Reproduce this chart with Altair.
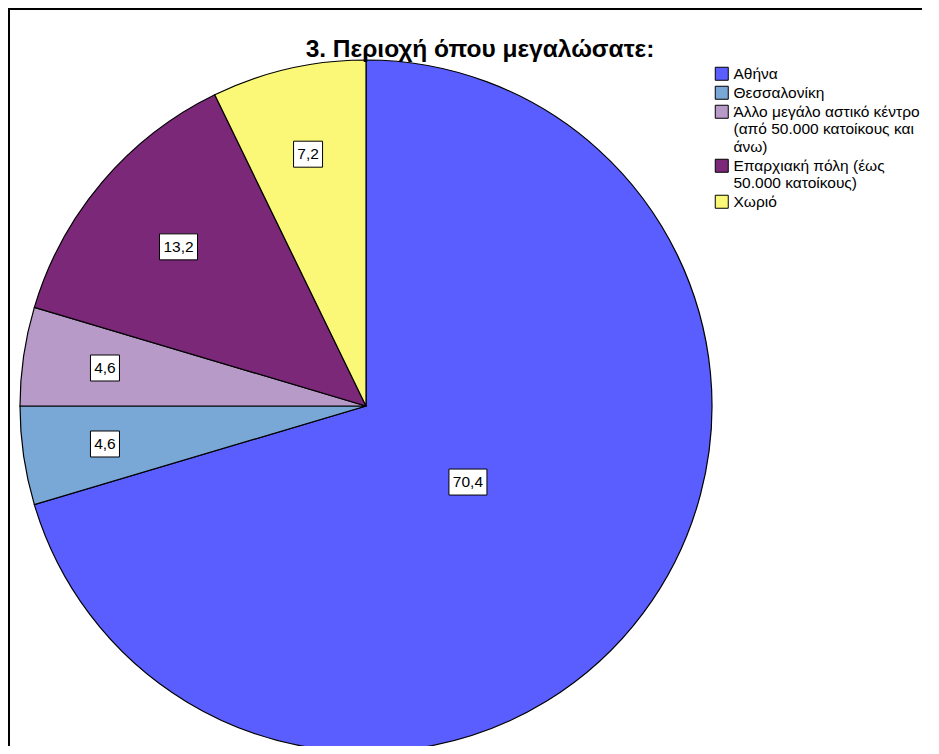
import altair as alt
import pandas as pd

# ---- data ----
categories = [
    "Αθήνα",
    "Θεσσαλονίκη",
    "Άλλο μεγάλο αστικό κέντρο\n(από 50.000 κατοίκους και\nάνω)",
    "Επαρχιακή πόλη (έως\n50.000 κατοίκους)",
    "Χωριό",
]
values = [70.4, 4.6, 4.6, 13.2, 7.2]
colors = ["#5b5eff", "#7aa8d6", "#b89ac8", "#7b2879", "#fbf878"]
title_text = "3. Περιοχή όπου μεγαλώσατε:"

df = pd.DataFrame({"category": categories, "value": values, "order": list(range(len(values)))})

R = 346          # pie radius (px)
W, H = 692, 680  # plot area
TOP = 58
FONT = "Arial, Liberation Sans, sans-serif"

base = alt.Chart(df)

frame_top = base.mark_rule(stroke="black", strokeWidth=2).encode(
    x=alt.value(-12), x2=alt.value(W + 230), y=alt.value(-TOP + 1)
)
frame_left = base.mark_rule(stroke="black", strokeWidth=2).encode(
    x=alt.value(-11), y=alt.value(-TOP), y2=alt.value(H + 20)
)

pie = base.mark_arc(outerRadius=R, stroke="black", strokeWidth=1.2).encode(
    theta=alt.Theta("value:Q", stack=True),
    order=alt.Order("order:Q"),
    color=alt.Color(
        "category:N",
        sort=categories,
        scale=alt.Scale(domain=categories, range=colors),
        legend=alt.Legend(
            title=None,
            orient="none",
            legendX=694,
            legendY=0,
            padding=0,
            symbolType="square",
            symbolSize=169,
            symbolStrokeColor="black",
            symbolStrokeWidth=1,
            symbolOpacity=1,
            labelFont=FONT,
            labelFontSize=15.5,
            labelColor="black",
            labelLimit=400,
            labelOffset=4,
            rowPadding=1,
            labelExpr="split(datum.label, '\\n')",
        ),
    ),
)

lab = base.transform_window(
    cum="sum(value)", sort=[alt.SortField("order")], frame=[None, 0]
).transform_calculate(
    mid="(datum.cum - datum.value / 2) / 100 * 2 * PI",
    r=f"{R} * (0.79 - 0.006 * datum.value)",
    lx="datum.r * sin(datum.mid)",
    ly="datum.r * cos(datum.mid)",
    txt="replace(format(datum.value, '.1f'), '.', ',')",
    hw="(9 * length(datum.txt) + 2) / 26",
    box="'M' + (-datum.hw) + ',-1L' + datum.hw + ',-1L' + datum.hw + ',1L' + (-datum.hw) + ',1Z'",
)

xenc = alt.X("lx:Q", scale=alt.Scale(domain=[-R, R]), axis=None)
yenc = alt.Y("ly:Q", scale=alt.Scale(domain=[-H / 2, H / 2]), axis=None)

boxes = lab.mark_point(filled=True, fill="white", stroke="black", strokeWidth=1, size=676, opacity=1).encode(
    x=xenc, y=yenc, shape=alt.Shape("box:N", scale=None)
)
texts = lab.mark_text(font=FONT, fontSize=15.5, color="black", baseline="middle", align="center").encode(
    x=xenc, y=yenc, text="txt:N"
)

chart = alt.layer(frame_top, frame_left, pie, boxes, texts).properties(
    width=W,
    height=H,
    title=alt.TitleParams(
        title_text, font=FONT, fontSize=24.5, fontWeight="bold", color="black",
        anchor="middle", dx=114, dy=74, baseline="alphabetic", frame="group", offset=0,
    ),
    autosize=alt.AutoSizeParams(type="none"),
    padding={"left": 12, "top": TOP, "right": 210, "bottom": 0},
).configure_view(stroke=None)

chart.save("out.html", embed_options={"renderer": "svg", "actions": False})
